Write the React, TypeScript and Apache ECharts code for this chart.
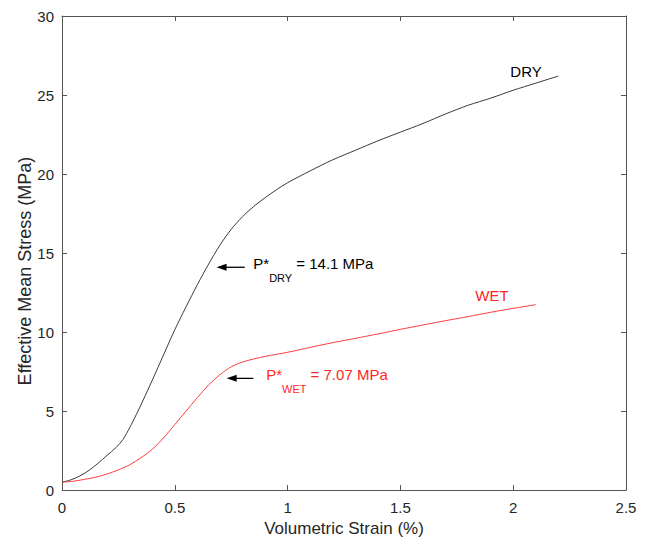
import React, { useEffect, useRef } from "react";
import * as echarts from "echarts";

const dryStrain = [0, 0.04, 0.08, 0.12, 0.16, 0.2, 0.24, 0.27, 0.3, 0.33, 0.36, 0.4, 0.45, 0.5, 0.55, 0.6, 0.65, 0.7, 0.75, 0.8, 0.85, 0.9, 0.95, 1.0, 1.1, 1.2, 1.3, 1.4, 1.5, 1.6, 1.7, 1.8, 1.9, 2.0, 2.1, 2.2];
const dryStress = [0.5, 0.65, 0.9, 1.25, 1.7, 2.2, 2.7, 3.2, 3.95, 4.8, 5.7, 6.95, 8.55, 10.15, 11.6, 13.0, 14.3, 15.5, 16.5, 17.3, 17.95, 18.5, 19.0, 19.45, 20.2, 20.9, 21.5, 22.1, 22.65, 23.2, 23.8, 24.35, 24.8, 25.3, 25.75, 26.2];

const wetStrain = [0, 0.05, 0.1, 0.15, 0.2, 0.25, 0.3, 0.35, 0.4, 0.45, 0.5, 0.55, 0.6, 0.65, 0.7, 0.75, 0.8, 0.85, 0.9, 1.0, 1.1, 1.2, 1.3, 1.4, 1.5, 1.6, 1.7, 1.8, 1.9, 2.0, 2.1];
const wetStress = [0.5, 0.56, 0.68, 0.82, 1.02, 1.28, 1.6, 2.05, 2.58, 3.3, 4.15, 5.0, 5.85, 6.65, 7.3, 7.8, 8.1, 8.3, 8.46, 8.72, 9.03, 9.33, 9.6, 9.88, 10.17, 10.45, 10.72, 10.98, 11.25, 11.5, 11.73];

const xTicks = [0, 0.5, 1, 1.5, 2, 2.5];
const yTicks = [0, 5, 10, 15, 20, 25, 30];

const pStarDry = 14.1;
const pStarWet = 7.07;

const FONT = "'Liberation Sans', Arial, sans-serif";
const AXIS_COLOR = "#555555";
const TEXT_COLOR = "#262626";
const DRY_COLOR = "#3a3a3a";
const WET_COLOR = "#ff3d3d";
const WET_TEXT = "#ff2525";

export default function App() {
  const ref = useRef<HTMLDivElement>(null);

  useEffect(() => {
    if (!ref.current) return;
    const chart = echarts.init(ref.current, undefined, { renderer: "svg" });

    const tickCommon = {
      axisLine: { show: true, onZero: false, lineStyle: { color: AXIS_COLOR, width: 1 } },
      axisTick: { show: true, inside: true, length: 5, lineStyle: { color: AXIS_COLOR } },
      splitLine: { show: false },
    };

    chart.setOption({
      animation: false,
      backgroundColor: "#ffffff",
      grid: { left: 62, right: 22, top: 16, bottom: 46, containLabel: false },
      xAxis: [
        {
          type: "value",
          min: xTicks[0],
          max: xTicks[xTicks.length - 1],
          interval: 0.5,
          position: "bottom",
          ...tickCommon,
          axisLabel: { color: TEXT_COLOR, fontSize: 15, fontFamily: FONT, margin: 10 },
          name: "Volumetric Strain (%)",
          nameLocation: "middle",
          nameGap: 28,
          nameTextStyle: { color: TEXT_COLOR, fontSize: 17, fontFamily: FONT },
        },
        {
          type: "value",
          min: xTicks[0],
          max: xTicks[xTicks.length - 1],
          interval: 0.5,
          position: "top",
          ...tickCommon,
          axisLabel: { show: false },
        },
      ],
      yAxis: [
        {
          type: "value",
          min: yTicks[0],
          max: yTicks[yTicks.length - 1],
          interval: 5,
          position: "left",
          ...tickCommon,
          axisLabel: { color: TEXT_COLOR, fontSize: 15, fontFamily: FONT, margin: 8 },
        },
        {
          type: "value",
          min: yTicks[0],
          max: yTicks[yTicks.length - 1],
          interval: 5,
          position: "right",
          ...tickCommon,
          axisLabel: { show: false },
        },
      ],
      series: [
        {
          name: "DRY",
          type: "line",
          data: dryStrain.map((x, i) => [x, dryStress[i]]),
          showSymbol: false,
          smooth: 0.3,
          lineStyle: { color: DRY_COLOR, width: 1 },
          silent: true,
        },
        {
          name: "WET",
          type: "line",
          data: wetStrain.map((x, i) => [x, wetStress[i]]),
          showSymbol: false,
          smooth: 0.3,
          lineStyle: { color: WET_COLOR, width: 1 },
          silent: true,
        },
      ],
    });

    const px = (x: number, y: number) => chart.convertToPixel({ gridIndex: 0 }, [x, y]) as number[];

    const arrow = (tail: number[], head: number[]) => [
      {
        type: "line",
        shape: { x1: tail[0], y1: tail[1], x2: head[0] + 8, y2: head[1] },
        style: { stroke: "#000", lineWidth: 1.3 },
        silent: true,
      },
      {
        type: "polygon",
        shape: { points: [[head[0], head[1]], [head[0] + 10, head[1] - 3.5], [head[0] + 10, head[1] + 3.5]] },
        style: { fill: "#000" },
        silent: true,
      },
    ];

    const subText = (pos: number[], sub: string, rest: string, color: string) => ({
      type: "text",
      x: pos[0],
      y: pos[1] - 11,
      style: {
        text: `{m|P*}{s|${sub}}{m| = ${rest}}`,
        textAlign: "left",
        textVerticalAlign: "top",
        fill: color,
        rich: {
          m: { fontSize: 15, fontFamily: FONT, color, lineHeight: 18, verticalAlign: "top" },
          s: { fontSize: 11, fontFamily: FONT, color, lineHeight: 12, padding: [16, 0, 0, 0], verticalAlign: "top" },
        },
      },
      silent: true,
    });

    const dryHead = px(0.685, pStarDry);
    const dryTail = px(0.81, pStarDry);
    const wetHead = px(0.73, pStarWet);
    const wetTail = px(0.848, pStarWet);
    const dryTextPos = px(0.848, pStarDry);
    const wetTextPos = px(0.905, pStarWet);
    const dryLabel = px(2.057, 26.5);
    const wetLabel = px(1.906, 12.3);

    chart.setOption({
      graphic: [
        ...arrow(dryTail, dryHead),
        ...arrow(wetTail, wetHead),
        subText(dryTextPos, "DRY", `${pStarDry} MPa`, "#000"),
        subText(wetTextPos, "WET", `${pStarWet} MPa`, WET_TEXT),
        {
          type: "text",
          x: dryLabel[0],
          y: dryLabel[1],
          style: { text: "DRY", fontSize: 15, fontFamily: FONT, fill: "#000", textAlign: "center", textVerticalAlign: "middle" },
          silent: true,
        },
        {
          type: "text",
          x: wetLabel[0],
          y: wetLabel[1],
          style: { text: "WET", fontSize: 15, fontFamily: FONT, fill: WET_TEXT, textAlign: "center", textVerticalAlign: "middle" },
          silent: true,
        },
        {
          type: "text",
          x: 25,
          y: 271,
          rotation: Math.PI / 2,
          style: {
            text: "Effective Mean Stress (MPa)",
            fontSize: 18,
            fontFamily: FONT,
            fill: TEXT_COLOR,
            textAlign: "center",
            textVerticalAlign: "middle",
          },
          silent: true,
        },
      ],
    });

    return () => chart.dispose();
  }, []);

  return (
    <div
      ref={ref}
      style={{ position: "fixed", left: 0, top: 0, width: 648, height: 542, background: "#fff" }}
    />
  );
}
